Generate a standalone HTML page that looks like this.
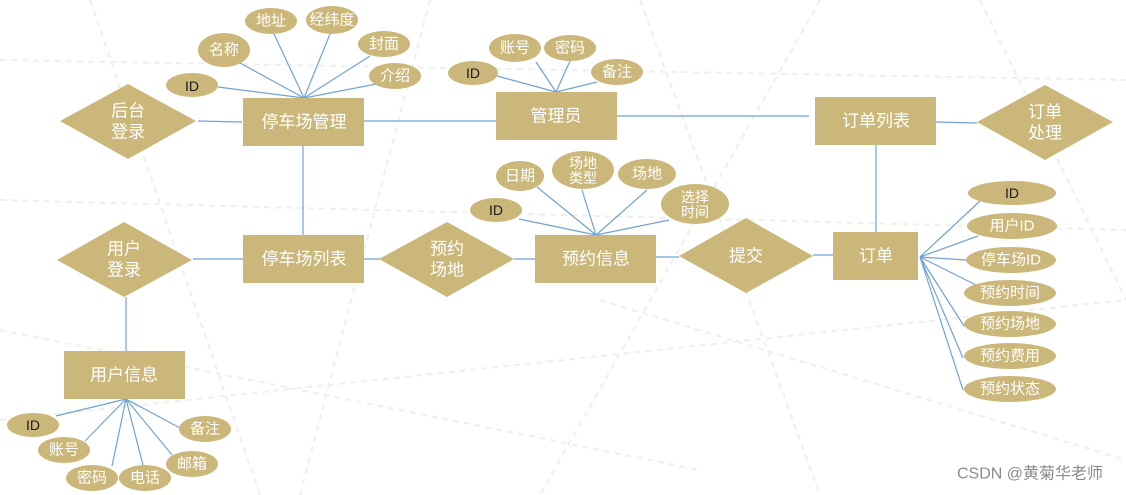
<!DOCTYPE html>
<html><head><meta charset="utf-8"><style>
html,body{margin:0;padding:0;background:#fff;}
svg{display:block;}
text{font-family:"Liberation Sans","Noto Sans CJK SC",sans-serif;fill:#fff;text-anchor:middle;dominant-baseline:central;}
.d{fill:#1a1a1a;}
</style></head><body>
<svg width="1126" height="495" viewBox="0 0 1126 495" xmlns="http://www.w3.org/2000/svg">
<g stroke="#efefef" stroke-width="2" stroke-dasharray="6 5" fill="none">
<path d="M0 60 L1126 80"/><path d="M0 200 L1126 230"/><path d="M0 330 L700 470"/><path d="M90 0 L260 495"/><path d="M430 0 L300 495"/><path d="M640 0 L820 495"/><path d="M820 0 L540 495"/><path d="M980 0 L1126 300"/><path d="M0 420 L1126 300"/><path d="M600 300 L1126 460"/>
</g>
<g stroke="#6fa3d8" stroke-width="1.2" fill="none">
<path d="M218 87 L304 98 M240 63 L304 98 M274 34 L304 98 M330 34 L304 98 M370 56 L304 98 M397 80 L304 98"/>
<path d="M198 121 L242 122 M363 121 L496 121 M303 146 L303 235 M193 259 L243 259 M363 259 L380 259 M514 259 L535 259 M656 257 L679 257 M813 255 L833 255"/>
<path d="M497 76 L556 92 M536 62 L556 92 M570 61 L556 92 M597 82 L556 92"/>
<path d="M617 116 L809 116 M876 145 L876 232 M936 122 L977 123"/>
<path d="M519 219 L596 235 M537 187 L596 235 M582 190 L596 235 M647 190 L596 235 M669 220 L596 235"/>
<path d="M920 257 L980 201 M920 257 L978 236 M920 257 L966 260 M920 257 L976 285 M920 257 L964 326 M920 257 L963 358 M920 257 L963 390"/>
<path d="M126 297 L126 351"/>
<path d="M126 399 L56 416 M126 399 L85 441 M126 399 L112 466 M126 399 L143 465 M126 399 L172 455 M126 399 L180 428"/>
</g>
<g fill="#cbb77a">
<rect x="243" y="98" width="121" height="48"/>
<rect x="243" y="235" width="121" height="48"/>
<rect x="496" y="92" width="121" height="48"/>
<rect x="815" y="97" width="121" height="48"/>
<rect x="833" y="232" width="85" height="48"/>
<rect x="535" y="235" width="121" height="48"/>
<rect x="64" y="351" width="121" height="48"/>
<polygon points="60,121 128,84 196,121 128,159"/>
<polygon points="57,260 124,222 192,260 124,297"/>
<polygon points="379,259 447,222 514,259 447,297"/>
<polygon points="679,256 746,218 813,256 746,293"/>
<polygon points="977,122 1045,85 1113,122 1045,160"/>
<ellipse cx="192" cy="85" rx="26" ry="12"/>
<ellipse cx="224" cy="50" rx="26" ry="17"/>
<ellipse cx="271" cy="21" rx="26" ry="13"/>
<ellipse cx="332" cy="20" rx="26" ry="14"/>
<ellipse cx="384" cy="44" rx="26" ry="13"/>
<ellipse cx="395" cy="76" rx="26" ry="13"/>
<ellipse cx="473" cy="73" rx="25" ry="12"/>
<ellipse cx="515" cy="48" rx="26" ry="14"/>
<ellipse cx="570" cy="48" rx="26" ry="13"/>
<ellipse cx="617" cy="72" rx="26" ry="13"/>
<ellipse cx="496" cy="210" rx="26" ry="12"/>
<ellipse cx="520" cy="176" rx="24" ry="15"/>
<ellipse cx="583" cy="170" rx="31" ry="19"/>
<ellipse cx="647" cy="174" rx="29" ry="15"/>
<ellipse cx="695" cy="204" rx="34" ry="20"/>
<ellipse cx="1012" cy="193" rx="44" ry="12"/>
<ellipse cx="1012" cy="226" rx="45" ry="13"/>
<ellipse cx="1011" cy="260" rx="45" ry="13"/>
<ellipse cx="1010" cy="293" rx="46" ry="13"/>
<ellipse cx="1010" cy="324" rx="46" ry="13"/>
<ellipse cx="1010" cy="356" rx="46" ry="13"/>
<ellipse cx="1010" cy="389" rx="46" ry="13"/>
<ellipse cx="33" cy="425" rx="26" ry="12"/>
<ellipse cx="64" cy="450" rx="26" ry="13"/>
<ellipse cx="92" cy="478" rx="26" ry="13"/>
<ellipse cx="145" cy="478" rx="26" ry="13"/>
<ellipse cx="192" cy="464" rx="26" ry="13"/>
<ellipse cx="205" cy="429" rx="26" ry="13"/>
</g>
<g font-size="17">
<text x="304" y="122">停车场管理</text>
<text x="304" y="259">停车场列表</text>
<text x="556" y="116">管理员</text>
<text x="876" y="121">订单列表</text>
<text x="876" y="256">订单</text>
<text x="596" y="259">预约信息</text>
<text x="124" y="375">用户信息</text>
<text x="128" y="111">后台</text><text x="128" y="132">登录</text>
<text x="124" y="249">用户</text><text x="124" y="270">登录</text>
<text x="447" y="249">预约</text><text x="447" y="270">场地</text>
<text x="746" y="256">提交</text>
<text x="1045" y="112">订单</text><text x="1045" y="133">处理</text>
</g>
<g font-size="15">
<text class="d" x="192" y="86" font-size="14">ID</text>
<text x="224" y="50">名称</text>
<text x="271" y="21">地址</text>
<text x="332" y="20">经纬度</text>
<text x="384" y="44">封面</text>
<text x="395" y="76">介绍</text>
<text class="d" x="473" y="73" font-size="14">ID</text>
<text x="515" y="48">账号</text>
<text x="570" y="48">密码</text>
<text x="617" y="72">备注</text>
<text class="d" x="496" y="210" font-size="14">ID</text>
<text x="520" y="176">日期</text>
<text x="583" y="163" font-size="14">场地</text><text x="583" y="178" font-size="14">类型</text>
<text x="647" y="174">场地</text>
<text x="695" y="197" font-size="14">选择</text><text x="695" y="212" font-size="14">时间</text>
<text class="d" x="1012" y="193" font-size="14">ID</text>
<text x="1012" y="226">用户ID</text>
<text x="1011" y="260">停车场ID</text>
<text x="1010" y="293">预约时间</text>
<text x="1010" y="324">预约场地</text>
<text x="1010" y="356">预约费用</text>
<text x="1010" y="389">预约状态</text>
<text class="d" x="33" y="425" font-size="14">ID</text>
<text x="64" y="450">账号</text>
<text x="92" y="478">密码</text>
<text x="145" y="478">电话</text>
<text x="192" y="464">邮箱</text>
<text x="205" y="429">备注</text>
</g>
<text x="1030" y="474" font-size="16" style="fill:#8a8a8a">CSDN @黄菊华老师</text>
</svg>
</body></html>
